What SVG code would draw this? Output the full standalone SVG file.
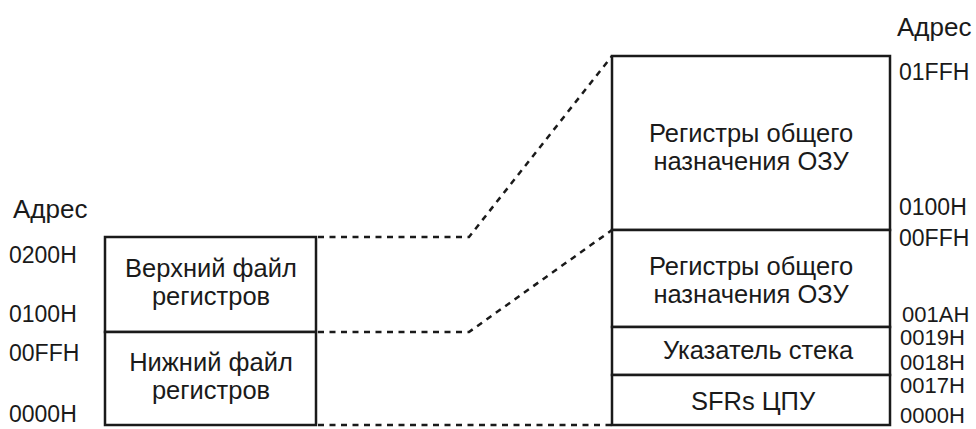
<svg xmlns="http://www.w3.org/2000/svg" width="976" height="429" viewBox="0 0 976 429">
  <style>
    .box { fill: #ffffff; stroke: #1a1a1a; stroke-width: 2.5; }
    .dash { fill: none; stroke: #1a1a1a; stroke-width: 2.5; stroke-dasharray: 6 5.5; }
    text { font-family: "Liberation Sans", Arial, sans-serif; fill: #1a1a1a; }
    .lbl { font-size: 23px; }
    .sm { font-size: 22px; }
    .hdr { font-size: 26px; }
    .in { font-size: 25.5px; text-anchor: middle; }
  </style>
  <rect width="976" height="429" fill="#ffffff"/>

  <!-- dotted connectors between the two memory maps -->
  <g id="connectors">
    <polyline class="dash" points="318,237 469,237 612,56"/>
    <polyline class="dash" points="318,332 469,332 612,230"/>
    <polyline class="dash" points="318,425 612,425"/>
  </g>

  <!-- left map: register file -->
  <g id="left-map">
    <text class="hdr" x="13" y="218">Адрес</text>
    <text class="lbl" x="9" y="263">0200H</text>
    <text class="lbl" x="9" y="322">0100H</text>
    <text class="lbl" x="9" y="361">00FFH</text>
    <text class="lbl" x="9" y="422">0000H</text>
  </g>
  <g id="upper-file">
    <rect class="box" x="105" y="237" width="211" height="95"/>
    <text class="in" x="211" y="277">Верхний файл</text>
    <text class="in" x="211" y="305">регистров</text>
  </g>
  <g id="lower-file">
    <rect class="box" x="105" y="332" width="211" height="93"/>
    <text class="in" x="211" y="371">Нижний файл</text>
    <text class="in" x="211" y="399">регистров</text>
  </g>

  <!-- right map: detailed layout -->
  <g id="right-map">
    <text class="hdr" x="897" y="36">Адрес</text>
    <text class="lbl" x="899" y="80">01FFH</text>
    <text class="lbl" x="899" y="215">0100H</text>
    <text class="lbl" x="899" y="246">00FFH</text>
    <text class="sm" x="902" y="322">001AH</text>
    <text class="sm" x="900" y="345">0019H</text>
    <text class="sm" x="900" y="370">0018H</text>
    <text class="sm" x="900" y="393">0017H</text>
    <text class="sm" x="900" y="423">0000H</text>
  </g>
  <g id="gpr-high">
    <rect class="box" x="612" y="56" width="278" height="174"/>
    <text class="in" x="751" y="142">Регистры общего</text>
    <text class="in" x="751" y="170">назначения ОЗУ</text>
  </g>
  <g id="gpr-low">
    <rect class="box" x="612" y="230" width="278" height="97"/>
    <text class="in" x="751" y="275">Регистры общего</text>
    <text class="in" x="751" y="303">назначения ОЗУ</text>
  </g>
  <g id="stack-pointer">
    <rect class="box" x="612" y="327" width="278" height="48"/>
    <text class="in" x="758" y="359">Указатель стека</text>
  </g>
  <g id="cpu-sfrs">
    <rect class="box" x="612" y="375" width="278" height="50"/>
    <text class="in" x="753" y="410">SFRs ЦПУ</text>
  </g>
</svg>
